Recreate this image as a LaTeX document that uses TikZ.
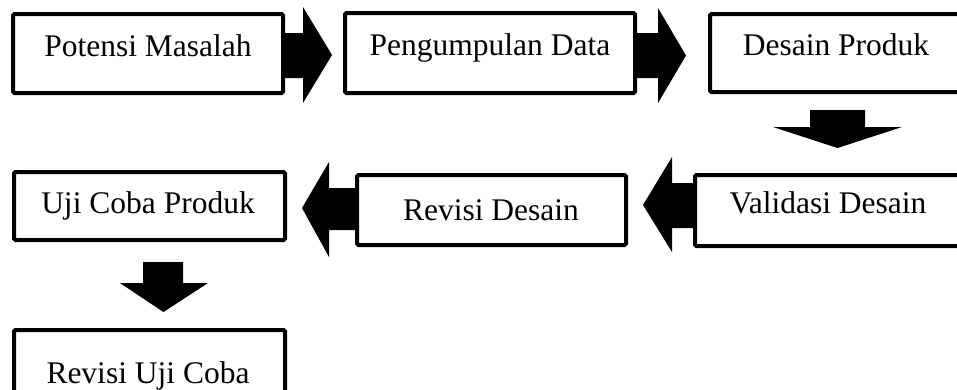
\documentclass[tikz,border=0pt]{standalone}
\usepackage{fontspec}
\setmainfont{Liberation Serif}
\usetikzlibrary{backgrounds}

\tikzset{
  stage/.style={draw=black, line width=4pt, fill=white, rounded corners=1.5pt,
                inner sep=0pt},
  stagetext/.style={anchor=base, inner sep=0pt,
                    font=\fontsize{31.5}{36}\selectfont},
  blockarrow/.style={fill=black, draw=none}
}

\begin{document}
\begin{tikzpicture}[x=1pt, y=-1pt]
\useasboundingbox (0,0) rectangle (957,389);

% stage boxes
\node[stage, minimum width=270pt, minimum height=79pt] (b1) at (148,53.5) {};
\node[stage, minimum width=290pt, minimum height=80pt] (b2) at (490,53) {};
\node[stage, minimum width=253pt, minimum height=78pt] (b3) at (836.5,53) {};
\node[stage, minimum width=266pt, minimum height=71pt] (b4) at (828,210.5) {};
\node[stage, minimum width=269pt, minimum height=70pt] (b5) at (491.5,210) {};
\node[stage, minimum width=271pt, minimum height=68pt] (b6) at (149.5,206) {};
\node[stage, minimum width=271pt, minimum height=68pt] (b7) at (149.5,364) {};

% stage labels
\node[stagetext] (t1) at (148,56)  {Potensi Masalah};
\node[stagetext] (t2) at (490,55)  {Pengumpulan Data};
\node[stagetext] (t3) at (836,55)  {Desain Produk};
\node[stagetext] (t4) at (828,213) {Validasi Desain};
\node[stagetext] (t5) at (491,220) {Revisi Desain};
\node[stagetext] (t6) at (148,213) {Uji Coba Produk};
\node[stagetext] (t7) at (148,383) {Revisi Uji Coba};

% block arrows, kept behind the boxes
\begin{pgfonlayer}{background}
  % Potensi Masalah -> Pengumpulan Data
  \fill[blockarrow] (b1.east |- 0,33) -- (303,33) -- (303,7) -- (332,55)
        -- (303,103) -- (303,78) -- (b1.east |- 0,78) -- cycle;
  % Pengumpulan Data -> Desain Produk
  \fill[blockarrow] (b2.east |- 0,33) -- (658,33) -- (658,8) -- (686,55.5)
        -- (658,103) -- (658,78) -- (b2.east |- 0,78) -- cycle;
  % Desain Produk -> Validasi Desain
  \fill[blockarrow] (810,110) -- (865,110) -- (865,127) -- (902,127)
        -- (837.5,148) -- (773,127) -- (810,127) -- cycle;
  % Validasi Desain -> Revisi Desain
  \fill[blockarrow] (b4.west |- 0,183) -- (672,183) -- (672,157) -- (643,205)
        -- (672,252) -- (672,228) -- (b4.west |- 0,228) -- cycle;
  % Revisi Desain -> Uji Coba Produk
  \fill[blockarrow] (b5.west |- 0,188) -- (329,188) -- (329,162) -- (302,208)
        -- (329,257) -- (329,230) -- (b5.west |- 0,230) -- cycle;
  % Uji Coba Produk -> Revisi Uji Coba
  \fill[blockarrow] (143,262) -- (183,262) -- (183,283) -- (208,283)
        -- (163.5,312) -- (120,283) -- (143,283) -- cycle;
\end{pgfonlayer}
\end{tikzpicture}
\end{document}
